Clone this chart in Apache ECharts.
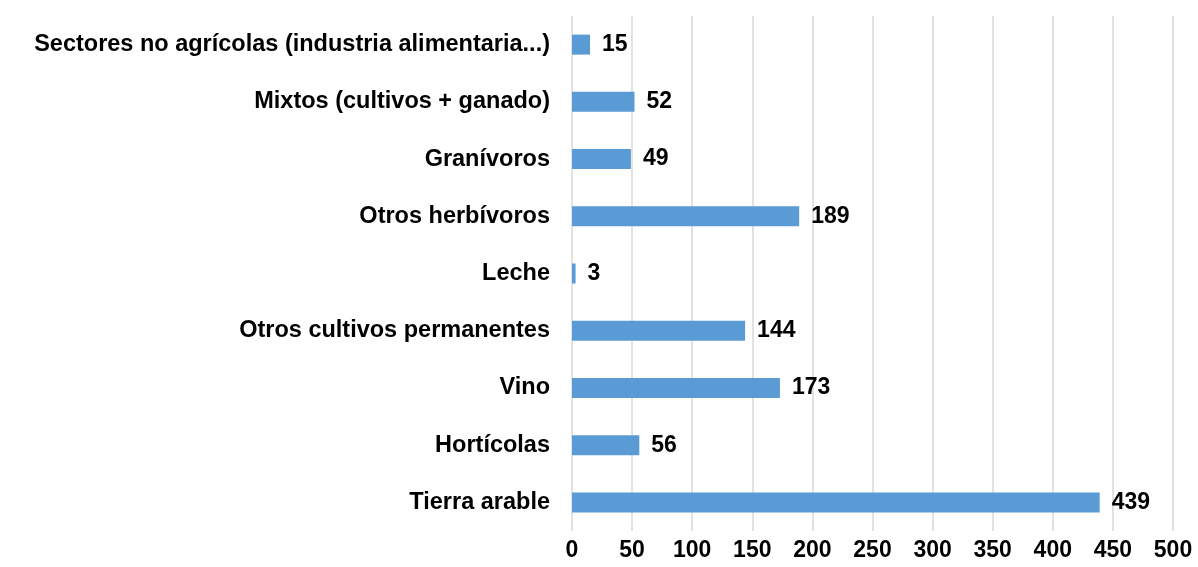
<!DOCTYPE html>
<html>
<head>
<meta charset="utf-8">
<script src="https://cdn.jsdelivr.net/npm/echarts@6/dist/echarts.min.js"></script>
<style>
  html, body { margin: 0; padding: 0; background: #fff; }
  #main { width: 1198px; height: 567px; }
</style>
</head>
<body>
<div id="main"></div>
<script>
// categorías de abajo hacia arriba (orden del eje de ECharts)
var categories = [
  "Tierra arable",
  "Hortícolas",
  "Vino",
  "Otros cultivos permanentes",
  "Leche",
  "Otros herbívoros",
  "Granívoros",
  "Mixtos (cultivos + ganado)",
  "Sectores no agrícolas (industria alimentaria...)"
];
var values = [439, 56, 173, 144, 3, 189, 49, 52, 15];
var xMin = 0;
var xMax = 500;
var xStep = 50;

var chart = echarts.init(document.getElementById("main"));
var font = "'Liberation Sans', Arial, sans-serif";
var option = {
  animation: false,
  grid: { left: 572, right: 25, top: 16, bottom: 36, containLabel: false },
  xAxis: {
    type: "value",
    min: xMin,
    max: xMax,
    interval: xStep,
    axisLine: { show: false },
    axisTick: { show: false },
    axisLabel: { color: "#000", fontFamily: font, fontWeight: "bold", fontSize: 23, margin: 8 },
    splitLine: { show: true, lineStyle: { color: "#d9d9d9", width: 1.5 } }
  },
  yAxis: {
    type: "category",
    data: categories,
    axisLine: { show: false },
    axisTick: { show: false },
    axisLabel: { color: "#000", fontFamily: font, fontWeight: "bold", fontSize: 23.5, margin: 22 }
  },
  series: [{
    type: "bar",
    data: values,
    barWidth: 20,
    itemStyle: { color: "#5b9bd5" },
    label: {
      show: true,
      position: "right",
      distance: 12,
      color: "#000",
      fontFamily: font,
      fontWeight: "bold",
      fontSize: 23
    }
  }]
};
chart.setOption(option);
</script>
</body>
</html>
